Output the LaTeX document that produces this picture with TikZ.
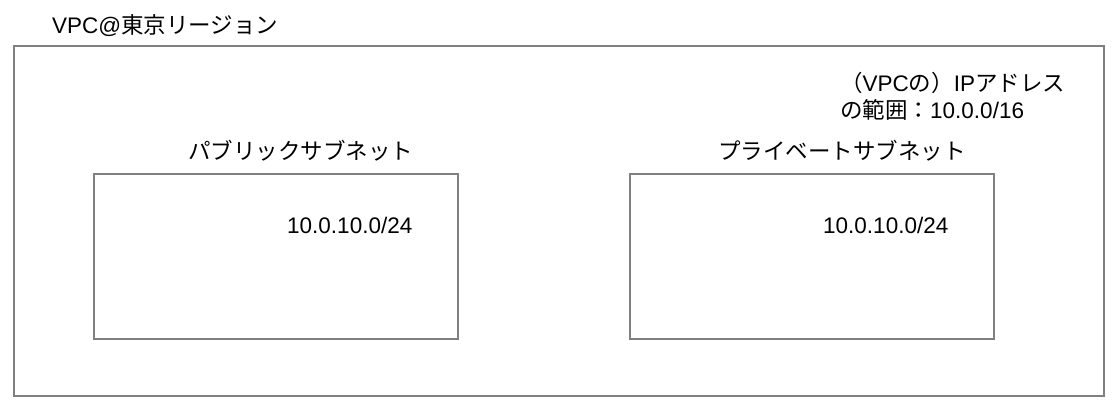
\documentclass[tikz,border=0pt]{standalone}
\usepackage{fontspec}
\setmainfont{Liberation Sans}
\newfontfamily\cjk{Noto Sans CJK JP}
\usepackage{tikz}
\definecolor{boxgray}{RGB}{128,128,128}
\newcommand{\lblfont}{\fontsize{22.5bp}{27bp}\selectfont}
\tikzset{
  netbox/.style={draw=boxgray, line width=1.5bp, fill=white, inner sep=0pt, outer sep=0pt},
  lbl/.style={anchor=base west, inner sep=0pt, font=\lblfont}
}

\begin{document}
\begin{tikzpicture}[x=1bp, y=-1bp]
\useasboundingbox (0,0) rectangle (1116,410);
\fill[white] (0,0) rectangle (1116,410);
% VPC
\node[netbox, minimum width=1090bp, minimum height=350bp] (vpc) at (559,221) {};
\node[lbl] (vpcname) at (52,33) {VPC@{\cjk 東京リージョン}};
\node[lbl] (range1) at (840,91) {{\cjk （}VPC{\cjk の）}IP{\cjk アドレス}};
\node[lbl] (range2) at (840,118) {{\cjk の範囲：}10.0.0/16};
% subnets
\node[netbox, minimum width=364bp, minimum height=165bp] (pub) at (276,256.5) {};
\node[netbox, minimum width=364bp, minimum height=165bp] (priv) at (812,256.5) {};
\node[lbl] (pubname) at (188,159) {\cjk パブリックサブネット};
\node[lbl] (privname) at (718,159) {\cjk プライベートサブネット};
\node[lbl] (pubcidr) at (287,233) {10.0.10.0/24};
\node[lbl] (privcidr) at (823,233) {10.0.10.0/24};
\end{tikzpicture}
\end{document}
